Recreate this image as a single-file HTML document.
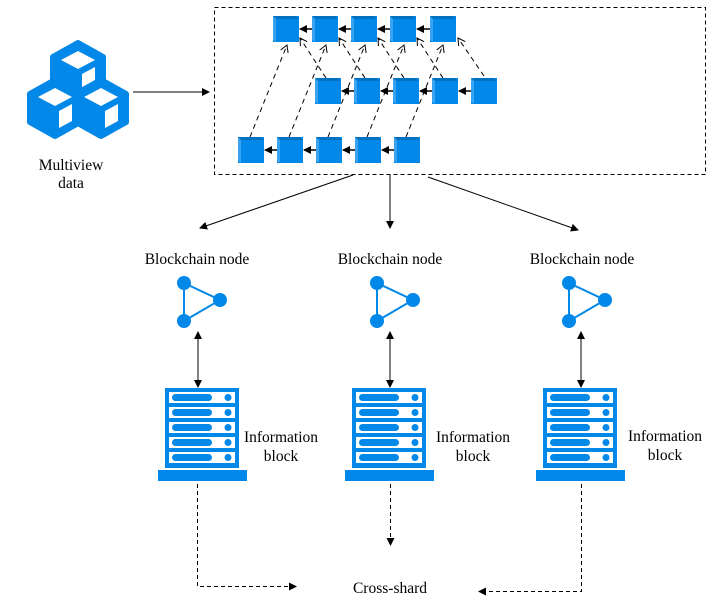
<!DOCTYPE html>
<html><head><meta charset="utf-8"><style>
html,body{margin:0;padding:0;background:#fff;}
svg{display:block;}
text{font-family:"Liberation Serif",serif;font-size:15.5px;fill:#000;}
</style></head><body>
<svg width="718" height="607" viewBox="0 0 718 607" xmlns="http://www.w3.org/2000/svg">
<defs>
<marker id="a" markerWidth="8" markerHeight="8" refX="7" refY="4" orient="auto-start-reverse" markerUnits="userSpaceOnUse"><path d="M0,0 L8,4 L0,8 z" fill="#000"/></marker>
<marker id="o" markerWidth="10" markerHeight="10" refX="8" refY="5" orient="auto" markerUnits="userSpaceOnUse"><path d="M1,1 L8,5 L1,9" fill="none" stroke="#000" stroke-width="1"/></marker>
<g id="c"><rect x="0" y="0" width="26" height="26" fill="#0288e8"/><polygon points="0,0 23,0 26,3 3,3" fill="#0070c0"/><polygon points="0,0 3,3 3,26 0,24" fill="#3aa3f0"/></g>
<g id="srv">
<rect x="1.5" y="1.5" width="71" height="77" fill="#fff" stroke="#0288e8" stroke-width="3"/>
<g fill="#0288e8">
<rect x="3" y="3" width="68" height="13" fill="#fff" stroke="#0288e8" stroke-width="2"/>
<rect x="3" y="18" width="68" height="13" fill="#fff" stroke="#0288e8" stroke-width="2"/>
<rect x="3" y="33" width="68" height="13" fill="#fff" stroke="#0288e8" stroke-width="2"/>
<rect x="3" y="48" width="68" height="13" fill="#fff" stroke="#0288e8" stroke-width="2"/>
<rect x="3" y="63" width="68" height="13" fill="#fff" stroke="#0288e8" stroke-width="2"/>
<rect x="7" y="6" width="40" height="7" rx="3.5"/><circle cx="63" cy="9.5" r="3.5"/>
<rect x="7" y="21" width="40" height="7" rx="3.5"/><circle cx="63" cy="24.5" r="3.5"/>
<rect x="7" y="36" width="40" height="7" rx="3.5"/><circle cx="63" cy="39.5" r="3.5"/>
<rect x="7" y="51" width="40" height="7" rx="3.5"/><circle cx="63" cy="54.5" r="3.5"/>
<rect x="7" y="66" width="40" height="7" rx="3.5"/><circle cx="63" cy="69.5" r="3.5"/>
<rect x="-7" y="82" width="89" height="11"/>
</g></g>
<g id="tri"><polyline points="0,0 36,17 0,38 0,0" fill="none" stroke="#0288e8" stroke-width="2"/>
<circle cx="0" cy="0" r="7" fill="#0288e8"/><circle cx="36" cy="17" r="7" fill="#0288e8"/><circle cx="0" cy="38" r="7" fill="#0288e8"/></g>
<g id="hx"><polygon points="0,-28 25,-14 25,14 0,28 -25,14 -25,-14" fill="#0288e8" stroke="#0288e8" stroke-width="6" stroke-linejoin="round"/>
<polygon points="0,-20 17,-11 0,-2 -17,-11" fill="#fff"/><polygon points="4,3 17,-4 17,13 4,20" fill="#fff"/></g>
</defs>

<use href="#hx" x="78" y="71"/>
<use href="#hx" x="55" y="108"/>
<use href="#hx" x="101" y="108"/>
<text x="71" y="170" text-anchor="middle">Multiview</text>
<text x="71" y="188" text-anchor="middle">data</text>
<line x1="133" y1="92" x2="209" y2="92" stroke="#000" marker-end="url(#a)"/>

<rect x="214.5" y="7.5" width="491" height="167" fill="none" stroke="#000" stroke-dasharray="4,3"/>

<g stroke="#000" stroke-dasharray="5,4" fill="none" marker-end="url(#o)">
<line x1="250" y1="137" x2="287" y2="45"/>
<line x1="289" y1="137" x2="326" y2="45"/>
<line x1="328" y1="137" x2="365" y2="45"/>
<line x1="367" y1="137" x2="404" y2="45"/>
<line x1="406" y1="137" x2="443" y2="45"/>
<line x1="326" y1="78" x2="300" y2="38"/>
<line x1="365" y1="78" x2="339" y2="38"/>
<line x1="404" y1="78" x2="378" y2="38"/>
<line x1="443" y1="78" x2="417" y2="38"/>
<line x1="484" y1="76" x2="458" y2="38"/>
</g>

<use href="#c" x="273" y="16"/><use href="#c" x="312" y="16"/><use href="#c" x="351" y="16"/><use href="#c" x="390" y="16"/><use href="#c" x="430" y="16"/>
<use href="#c" x="315" y="78"/><use href="#c" x="354" y="78"/><use href="#c" x="393" y="78"/><use href="#c" x="432" y="78"/><use href="#c" x="471" y="78"/>
<use href="#c" x="238" y="137"/><use href="#c" x="277" y="137"/><use href="#c" x="316" y="137"/><use href="#c" x="355" y="137"/><use href="#c" x="394" y="137"/>
<g stroke="#000" stroke-width="1.5" marker-end="url(#a)">
<line x1="312" y1="29" x2="300" y2="29"/><line x1="351" y1="29" x2="339" y2="29"/><line x1="390" y1="29" x2="378" y2="29"/><line x1="430" y1="29" x2="417" y2="29"/>
<line x1="354" y1="91" x2="342" y2="91"/><line x1="393" y1="91" x2="381" y2="91"/><line x1="432" y1="91" x2="420" y2="91"/><line x1="471" y1="91" x2="459" y2="91"/>
<line x1="277" y1="150" x2="265" y2="150"/><line x1="316" y1="150" x2="304" y2="150"/><line x1="355" y1="150" x2="343" y2="150"/><line x1="394" y1="150" x2="382" y2="150"/>
</g>

<g stroke="#000" marker-end="url(#a)">
<line x1="353" y1="175" x2="200" y2="228"/>
<line x1="390" y1="175" x2="390" y2="228"/>
<line x1="428" y1="177" x2="578" y2="230"/>
</g>

<text x="197" y="264" text-anchor="middle">Blockchain node</text>
<text x="390" y="264" text-anchor="middle">Blockchain node</text>
<text x="582" y="264" text-anchor="middle">Blockchain node</text>

<use href="#tri" x="184" y="283"/>
<use href="#tri" x="377" y="283"/>
<use href="#tri" x="569" y="283"/>

<g stroke="#000" marker-start="url(#a)" marker-end="url(#a)">
<line x1="198" y1="332" x2="198" y2="387"/>
<line x1="390" y1="332" x2="390" y2="387"/>
<line x1="581" y1="332" x2="581" y2="387"/>
</g>

<use href="#srv" x="165" y="388"/>
<use href="#srv" x="352" y="388"/>
<use href="#srv" x="543" y="388"/>

<text x="281" y="442" text-anchor="middle">Information</text>
<text x="281" y="461" text-anchor="middle">block</text>
<text x="473" y="442" text-anchor="middle">Information</text>
<text x="473" y="461" text-anchor="middle">block</text>
<text x="665" y="441" text-anchor="middle">Information</text>
<text x="665" y="460" text-anchor="middle">block</text>

<g stroke="#000" stroke-dasharray="4,3" fill="none">
<polyline points="197.5,484 197.5,586.5 296,586.5" marker-end="url(#a)"/>
<line x1="390.5" y1="484" x2="390.5" y2="545" marker-end="url(#a)"/>
<polyline points="581.5,484 581.5,591.5 479,591.5" marker-end="url(#a)"/>
</g>
<text x="390" y="593" text-anchor="middle">Cross-shard</text>
</svg>
</body></html>
